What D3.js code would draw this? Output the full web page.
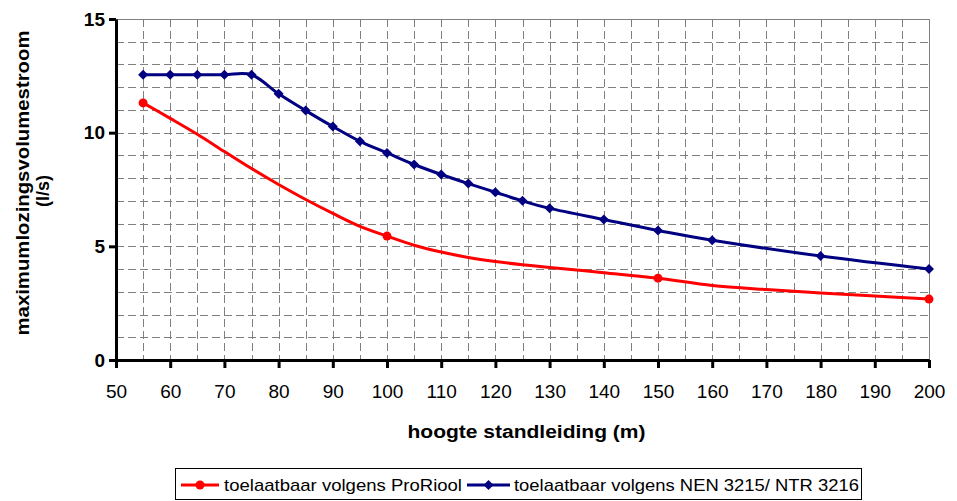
<!DOCTYPE html>
<html>
<head>
<meta charset="utf-8">
<script src="https://cdn.jsdelivr.net/npm/d3@7"></script>
<style>
  body { margin: 0; background: #fff; }
  svg { display: block; font-family: "Liberation Sans", Arial, sans-serif; }
</style>
</head>
<body>
<svg id="chart" width="957" height="501"></svg>
<script>
// DATA
const blueHeights = [55, 60, 65, 70, 75, 80, 85, 90, 95, 100, 105, 110, 115, 120, 125, 130, 140, 150, 160, 180, 200];
const blueValues  = [12.55, 12.55, 12.55, 12.55, 12.55, 11.71, 10.97, 10.27, 9.62, 9.11, 8.6, 8.16, 7.76, 7.38, 7.0, 6.67, 6.18, 5.7, 5.27, 4.57, 4.0];

const redHeights = [55, 60, 65, 70, 75, 80, 85, 90, 95, 100, 105, 110, 115, 120, 125, 130, 140, 150, 160, 170, 180, 190, 200];
const redValues  = [11.31, 10.63, 9.93, 9.17, 8.42, 7.72, 7.06, 6.45, 5.88, 5.45, 5.05, 4.75, 4.51, 4.33, 4.19, 4.07, 3.84, 3.6, 3.28, 3.1, 2.95, 2.81, 2.68];
// markers are only drawn on these heights of the red series
const redMarked = [55, 100, 150, 200];

const xTicks = [50, 60, 70, 80, 90, 100, 110, 120, 130, 140, 150, 160, 170, 180, 190, 200];
const yTicks = [0, 5, 10, 15];

const legendLabels = ["toelaatbaar volgens ProRiool", "toelaatbaar volgens NEN 3215/ NTR 3216"];

const RED = "#ff0000";
const NAVY = "#000080";

const svg = d3.select("#chart");

const plot = { left: 116, right: 929, top: 19, bottom: 360 };

const x = d3.scaleLinear().domain([50, 200]).range([plot.left, plot.right]);
const y = d3.scaleLinear().domain([0, 15]).range([plot.bottom, plot.top]);

// gridlines (dashed grey), every 5 m and every 1 l/s
const grid = svg.append("g").attr("class", "grid").attr("shape-rendering", "crispEdges");
grid.selectAll("line.v")
  .data(d3.range(55, 200, 5))
  .join("line")
  .attr("class", "v")
  .attr("x1", d => Math.round(x(d)) + 0.5).attr("x2", d => Math.round(x(d)) + 0.5)
  .attr("y1", y(15)).attr("y2", y(0))
  .attr("stroke", "#808080")
  .attr("stroke-dasharray", "8,4");

grid.selectAll("line.h")
  .data(d3.range(1, 15, 1))
  .join("line")
  .attr("class", "h")
  .attr("x1", x(50)).attr("x2", x(200))
  .attr("y1", d => Math.round(y(d)) + 0.5).attr("y2", d => Math.round(y(d)) + 0.5)
  .attr("stroke", "#808080")
  .attr("stroke-dasharray", "8,4");

// plot area border top + right
grid.append("path")
  .attr("d", `M${x(50)},${Math.round(y(15)) + 0.5}H${Math.round(x(200)) + 0.5}V${y(0)}`)
  .attr("fill", "none")
  .attr("stroke", "#808080");

// AXES
const xAxis = svg.append("g")
  .attr("transform", `translate(0,${plot.bottom})`)
  .call(d3.axisBottom(x).tickValues(xTicks).tickSize(8).tickSizeOuter(0).tickPadding(17));

const yAxis = svg.append("g")
  .attr("transform", `translate(${plot.left},0)`)
  .call(d3.axisLeft(y).tickValues(yTicks).tickSize(7).tickSizeOuter(0).tickPadding(4));

[xAxis, yAxis].forEach(a => {
  a.select(".domain").attr("stroke", "#000").attr("stroke-width", 3);
  a.selectAll(".tick line").attr("stroke", "#000").attr("stroke-width", 3);
  a.selectAll(".tick text").attr("fill", "#000");
});
xAxis.selectAll(".tick text").style("font-size", "19px");
yAxis.selectAll(".tick text").style("font-size", "19px").style("font-weight", "bold");

// axis titles
svg.append("text")
  .attr("x", (plot.left + plot.right) / 2 + 4)
  .attr("y", 438)
  .attr("text-anchor", "middle")
  .style("font-size", "18px")
  .style("font-weight", "bold")
  .attr("textLength", 238)
  .attr("lengthAdjust", "spacingAndGlyphs")
  .text("hoogte standleiding (m)");

const yTitle = svg.append("g")
  .attr("transform", "rotate(-90)")
  .style("font-size", "18px")
  .style("font-weight", "bold")
  .attr("text-anchor", "middle");
yTitle.append("text")
  .attr("x", -183).attr("y", 29)
  .attr("textLength", 305)
  .attr("lengthAdjust", "spacingAndGlyphs")
  .text("maximumlozingsvolumestroom");
yTitle.append("text")
  .attr("x", -191).attr("y", 49)
  .text("(l/s)");

// LINES
const line = d3.line()
  .x(d => x(d[0]))
  .y(d => y(d[1]))
  .curve(d3.curveCardinal.tension(0));

const redData = d3.zip(redHeights, redValues);
const blueData = d3.zip(blueHeights, blueValues);

svg.append("path")
  .datum(redData)
  .attr("d", line)
  .attr("fill", "none")
  .attr("stroke", RED)
  .attr("stroke-width", 3);

svg.append("path")
  .datum(blueData)
  .attr("d", line)
  .attr("fill", "none")
  .attr("stroke", NAVY)
  .attr("stroke-width", 3);

// diamond marker
function diamond(r) {
  return `M0,${-r}L${r},0L0,${r}L${-r},0Z`;
}

svg.selectAll("circle.red")
  .data(redData.filter(d => redMarked.includes(d[0])))
  .join("circle")
  .attr("class", "red")
  .attr("cx", d => x(d[0]))
  .attr("cy", d => y(d[1]))
  .attr("r", 4.5)
  .attr("fill", RED);

svg.selectAll("path.blue")
  .data(blueData)
  .join("path")
  .attr("class", "blue")
  .attr("transform", d => `translate(${x(d[0])},${y(d[1])})`)
  .attr("d", diamond(5))
  .attr("fill", NAVY);

// LEGEND
const legend = svg.append("g");
legend.append("rect")
  .attr("x", 175.5).attr("y", 468.5)
  .attr("width", 686).attr("height", 31)
  .attr("fill", "#fff")
  .attr("stroke", "#000");

const legendItems = [
  { label: legendLabels[0], color: RED, marker: "circle", x0: 181, x1: 219, tx: 224, tw: 238 },
  { label: legendLabels[1], color: NAVY, marker: "diamond", x0: 467, x1: 510, tx: 514, tw: 345 }
];

legendItems.forEach(it => {
  const ly = 485;
  legend.append("line")
    .attr("x1", it.x0).attr("x2", it.x1)
    .attr("y1", ly).attr("y2", ly)
    .attr("stroke", it.color).attr("stroke-width", 3);
  const cx = (it.x0 + it.x1) / 2;
  if (it.marker === "circle") {
    legend.append("circle").attr("cx", cx).attr("cy", ly).attr("r", 4.5).attr("fill", it.color);
  } else {
    legend.append("path").attr("transform", `translate(${cx},${ly})`).attr("d", diamond(5)).attr("fill", it.color);
  }
  legend.append("text")
    .attr("x", it.tx).attr("y", ly + 6)
    .style("font-size", "17px")
    .attr("textLength", it.tw)
    .attr("lengthAdjust", "spacingAndGlyphs")
    .text(it.label);
});
</script>
</body>
</html>
